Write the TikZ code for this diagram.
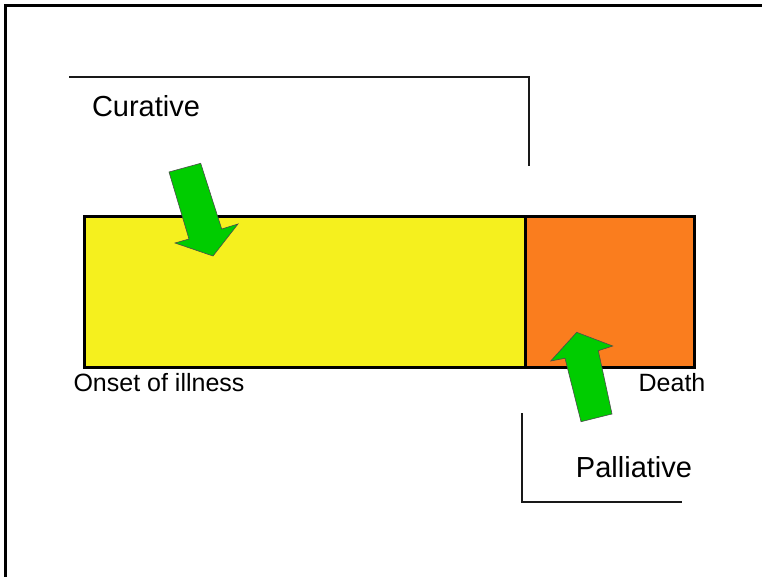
\documentclass[tikz,border=0pt]{standalone}
\usepackage{fontspec}
\setmainfont{Liberation Sans}
\definecolor{barYellow}{RGB}{245,240,30}
\definecolor{barOrange}{RGB}{250,125,30}
\definecolor{arrGreen}{RGB}{0,204,0}
\begin{document}
\begin{tikzpicture}[x=1pt,y=-1pt,
    big/.style={font=\fontsize{29}{29}\selectfont, inner sep=0pt},
    small/.style={font=\fontsize{25}{25}\selectfont, inner sep=0pt},
    bracket/.style={line width=2pt, black!90},
    fatarrow/.style={fill=arrGreen, draw=black!70, line width=0.6pt, line join=miter}]
  \useasboundingbox (0,0) rectangle (762,577);
  \draw[line width=3pt] (5,577) -- (5,6) -- (762,6);
  % bar
  \draw[fill=barYellow, line width=3pt] (84,217) rectangle (525,367);
  \draw[fill=barOrange, line width=3pt] (525,217) rectangle (694,367);
  % brackets
  \draw[bracket] (69,77) -- (529,77) -- (529,166);
  \draw[bracket] (522,413) -- (522,502) -- (682,502);
  % labels
  \node[big] (curative) at (146,106) {Curative};
  \node[big] (palliative) at (634,467) {Palliative};
  \node[small] (onset) at (159,383) {Onset of illness};
  \node[small] (death) at (672,383) {Death};
  % arrows
  \draw[fatarrow] (169,172) -- (200.7,163.3) -- (221.7,229) -- (238,224) -- (213,256)
    -- (175,243) -- (189,239) -- cycle;
  \draw[fatarrow] (576.7,332.3) -- (612.7,346) -- (598.3,350.7) -- (612,414) -- (581,421.7)
    -- (565,358.3) -- (550.7,361) -- cycle;
\end{tikzpicture}
\end{document}
